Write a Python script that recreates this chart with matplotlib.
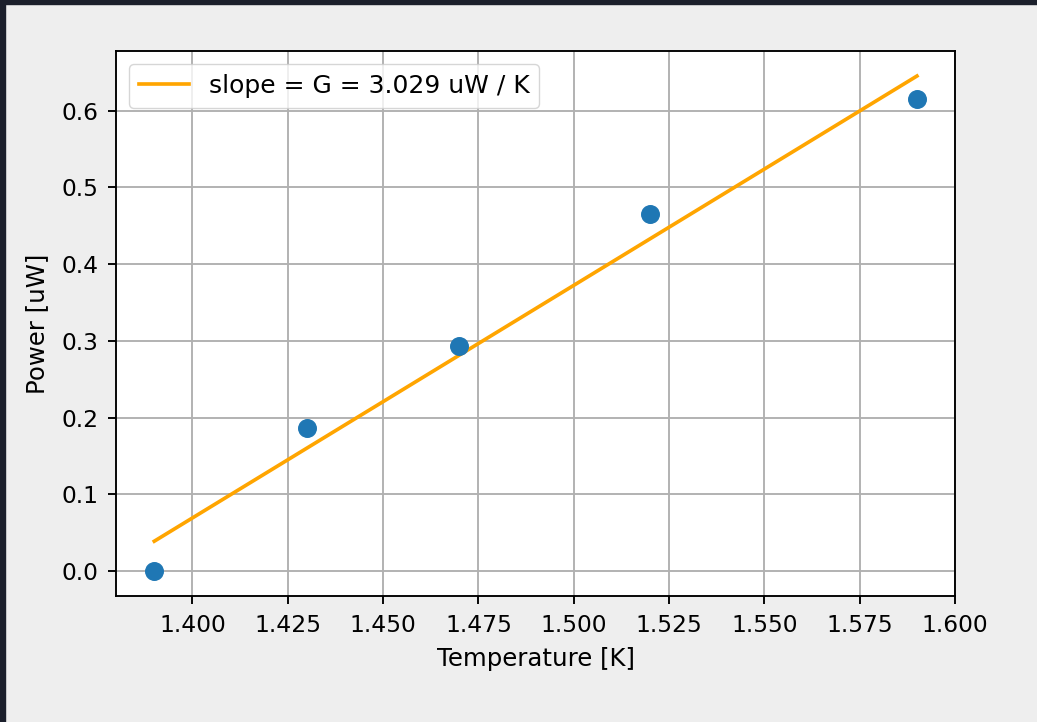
import numpy as np
import matplotlib
matplotlib.use("Agg")
import matplotlib.pyplot as plt
from matplotlib.patches import Rectangle

# measured points
temperature = [1.39, 1.43, 1.47, 1.52, 1.59]
power = [0.0, 0.186, 0.293, 0.465, 0.6146]

# linear fit shown in the chart
slope = 3.029
intercept = -4.1712
fit_label = "slope = G = 3.029 uW / K"

s = 1.7  # scale factor vs default matplotlib sizes
plt.rcParams["font.size"] = 17

fig = plt.figure(figsize=(10.37, 7.22), dpi=100, facecolor="#eeeeee")
ax = fig.add_axes([0.112, 0.1745, 0.809, 0.7545])

t = np.array(temperature)
ax.scatter(t, power, s=160, color="#1f77b4", zorder=3)
ax.plot(t[[0, -1]], slope * t[[0, -1]] + intercept, color="orange",
        linewidth=1.55 * s, label=fit_label, zorder=2)

ax.set_xticks([1.400, 1.425, 1.450, 1.475, 1.500, 1.525, 1.550, 1.575, 1.600])
ax.xaxis.set_major_formatter(matplotlib.ticker.FormatStrFormatter("%.3f"))
ax.set_xlim(1.38, 1.60)
ax.grid(True, linewidth=0.8 * s, color="#b0b0b0")
ax.set_axisbelow(True)
for sp in ax.spines.values():
    sp.set_linewidth(0.8 * s)
ax.tick_params(width=0.8 * s, length=3.5 * s, pad=4 * s, labelsize=16.8)

ax.set_xlabel("Temperature [K]", fontsize=17.6, labelpad=4.5 * s)
ax.set_ylabel("Power [uW]", fontsize=17.6, labelpad=5 * s)
ax.legend(loc="upper left", framealpha=0.8, fontsize=18)

# dark frame edges from the screenshot
fig.patches.append(Rectangle((0, 1 - 4 / 722), 1, 4 / 722, transform=fig.transFigure,
                             color="#1b1f2b", zorder=10))
fig.patches.append(Rectangle((0, 0), 5 / 1037, 1, transform=fig.transFigure,
                             color="#1b1f2b", zorder=10))

fig.savefig("out.png", dpi=100, facecolor=fig.get_facecolor())
